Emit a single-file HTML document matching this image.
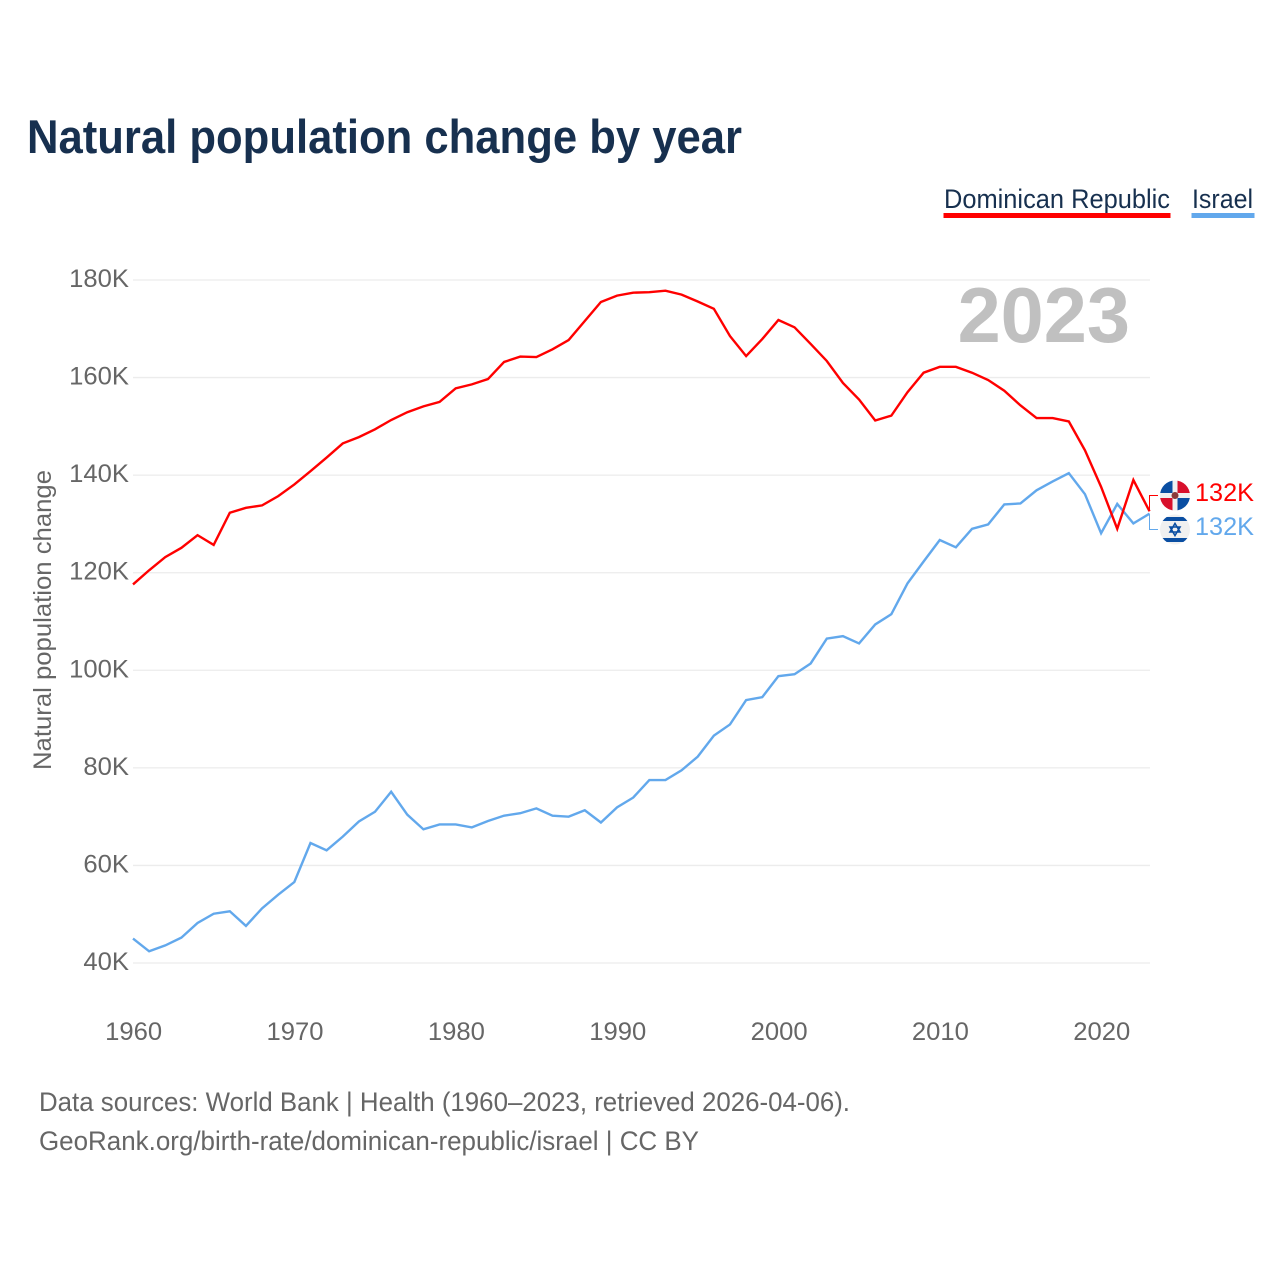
<!DOCTYPE html>
<html lang="en">
<head>
<meta charset="utf-8">
<title>Natural population change by year</title>
<style>
html,body{margin:0;padding:0;background:#fff;}
svg{display:block;font-family:"Liberation Sans",sans-serif;}
</style>
</head>
<body>
<svg id="chart" width="1280" height="1280" viewBox="0 0 1280 1280" xmlns="http://www.w3.org/2000/svg">
  <text x="27" y="153" font-size="47" font-weight="700" fill="#17304f" textLength="715" lengthAdjust="spacingAndGlyphs">Natural population change by year</text>

  <g>
    <g>
      <text x="944" y="208" font-size="27" fill="#17304f" textLength="226" lengthAdjust="spacingAndGlyphs">Dominican Republic</text>
      <rect x="943.5" y="213" width="227" height="5" fill="#ff0000"/>
    </g>
    <g>
      <text x="1192" y="208" font-size="27" fill="#17304f" textLength="61" lengthAdjust="spacingAndGlyphs">Israel</text>
      <rect x="1191.5" y="213" width="63" height="5" fill="#62a8ec"/>
    </g>
  </g>

  <g id="grid"></g>
  <text x="1130" y="342" text-anchor="end" font-size="77.5" font-weight="700" fill="#c0c0c0">2023</text>
  <g id="yticks"></g>
  <g id="xticks"></g>
  <text transform="translate(51,770) rotate(-90)" x="0" y="0" font-size="25" fill="#666666" textLength="300" lengthAdjust="spacingAndGlyphs">Natural population change</text>

  <g id="series"></g>

  <g id="connectors"></g>

  <defs>
    <clipPath id="clip-do"><circle cx="1175" cy="495.5" r="15"/></clipPath>
    <clipPath id="clip-il"><circle cx="1175" cy="529.5" r="15"/></clipPath>
  </defs>

  <g clip-path="url(#clip-do)">
    <rect x="1160" y="480" width="30" height="31" fill="#f0f0f0"/>
    <rect x="1160" y="480" width="12.5" height="13" fill="#0a4ea2"/>
    <rect x="1177.5" y="480" width="12.5" height="13" fill="#d8102c"/>
    <rect x="1160" y="498" width="12.5" height="13" fill="#d8102c"/>
    <rect x="1177.5" y="498" width="12.5" height="13" fill="#0a4ea2"/>
    <circle cx="1175" cy="495.5" r="3.5" fill="#8a3a3a"/>
  </g>

  <g clip-path="url(#clip-il)">
    <rect x="1160" y="514" width="30" height="31" fill="#f0f0f0"/>
    <rect x="1160" y="517" width="30" height="4" fill="#0a4ea2"/>
    <rect x="1160" y="538" width="30" height="4" fill="#0a4ea2"/>
    <path d="M1175 523.5l5 8.5h-10z M1175 535.5l5-8.5h-10z" fill="none" stroke="#0a4ea2" stroke-width="1.6"/>
  </g>

  <text x="1195" y="501" font-size="25" fill="#ff0000" textLength="59" lengthAdjust="spacingAndGlyphs">132K</text>
  <text x="1195" y="535" font-size="25" fill="#62a8ec" textLength="59" lengthAdjust="spacingAndGlyphs">132K</text>

  <g>
    <text x="39" y="1111" font-size="27" fill="#666666" textLength="811" lengthAdjust="spacingAndGlyphs">Data sources: World Bank | Health (1960–2023, retrieved 2026-04-06).</text>
    <text x="39" y="1150" font-size="27" fill="#666666" textLength="660" lengthAdjust="spacingAndGlyphs">GeoRank.org/birth-rate/dominican-republic/israel | CC BY</text>
  </g>
</svg>

<script>
const years = [1960,1961,1962,1963,1964,1965,1966,1967,1968,1969,1970,1971,1972,1973,1974,1975,1976,1977,1978,1979,1980,1981,1982,1983,1984,1985,1986,1987,1988,1989,1990,1991,1992,1993,1994,1995,1996,1997,1998,1999,2000,2001,2002,2003,2004,2005,2006,2007,2008,2009,2010,2011,2012,2013,2014,2015,2016,2017,2018,2019,2020,2021,2022,2023];
const dominicanRepublic = [117.6,120.5,123.2,125.1,127.7,125.7,132.3,133.3,133.8,135.7,138.1,140.8,143.6,146.5,147.8,149.4,151.3,152.9,154.1,155,157.8,158.6,159.7,163.2,164.3,164.2,165.8,167.7,171.6,175.5,176.8,177.4,177.5,177.8,177,175.6,174.1,168.5,164.4,167.9,171.8,170.3,166.9,163.4,158.9,155.5,151.2,152.2,157,161,162.2,162.2,161,159.5,157.3,154.3,151.7,151.7,151,145.1,137.6,129,139,132.6];
const israel = [45,42.4,43.6,45.2,48.2,50.1,50.6,47.6,51.2,54,56.6,64.6,63.1,65.9,69,71,75.1,70.4,67.4,68.4,68.4,67.8,69.1,70.2,70.7,71.7,70.2,70,71.3,68.8,71.9,73.9,77.5,77.5,79.5,82.3,86.6,88.9,93.9,94.5,98.8,99.2,101.4,106.5,107,105.5,109.4,111.5,117.8,122.3,126.7,125.2,129,129.9,134,134.2,136.9,138.7,140.4,136.1,128.1,134.1,130.1,132.1];
const yTickValues = [40,60,80,100,120,140,160,180];
const yTickLabels = ["40K","60K","80K","100K","120K","140K","160K","180K"];
const xTickValues = [1960,1970,1980,1990,2000,2010,2020];
const xTickLabels = ["1960","1970","1980","1990","2000","2010","2020"];

const NS = "http://www.w3.org/2000/svg";
function xScale(year) { return 133 + (year - 1960) * (1149.5 - 133) / 63; }
function yScale(value) { return 963 - (value - 40) * (963 - 280) / 140; }
function make(tag, parent, attrs) {
  const el = document.createElementNS(NS, tag);
  Object.keys(attrs).forEach(function (k) { el.setAttribute(k, attrs[k]); });
  parent.appendChild(el);
  return el;
}

const gridGroup = document.getElementById("grid");
const yGroup = document.getElementById("yticks");
const xGroup = document.getElementById("xticks");
const seriesGroup = document.getElementById("series");
const connectorGroup = document.getElementById("connectors");

yTickValues.forEach(function (v, i) {
  const line = make("line", gridGroup, { x1: 133, x2: 1150, y1: yScale(v), y2: yScale(v), stroke: "#ececec", "stroke-width": 1.3 });
  
  
  const label = make("text", yGroup, { x: 129, y: yScale(v) + 7, "text-anchor": "end", "font-size": 25, fill: "#666666", textLength: yTickLabels[i].length * 14.2 + 3, lengthAdjust: "spacingAndGlyphs" });
  
  
  label.textContent = yTickLabels[i];
});

xTickValues.forEach(function (v, i) {
  const label = make("text", xGroup, { x: xScale(v) + 0.7, y: 1040, "text-anchor": "middle", "font-size": 25, fill: "#666666", textLength: 57, lengthAdjust: "spacingAndGlyphs" });
  
  
  label.textContent = xTickLabels[i];
});

function linePath(values) {
  return values.map(function (v, i) {
    return (i ? "L" : "M") + xScale(years[i]).toFixed(2) + " " + yScale(v).toFixed(2);
  }).join("");
}

const israelLine = make("path", seriesGroup, { d: linePath(israel), fill: "none", stroke: "#62a8ec", "stroke-width": 2.4, "stroke-linejoin": "miter" });



const drLine = make("path", seriesGroup, { d: linePath(dominicanRepublic), fill: "none", stroke: "#ff0000", "stroke-width": 2.4, "stroke-linejoin": "miter" });



const lastX = xScale(years[years.length - 1]);
const drConnector = make("path", connectorGroup, { d: "M" + lastX + " " + yScale(dominicanRepublic[dominicanRepublic.length - 1]) + "V495.5H1158", fill: "none", stroke: "#ff0000", "stroke-width": 1 });



const ilConnector = make("path", connectorGroup, { d: "M" + lastX + " " + yScale(israel[israel.length - 1]) + "V529.5H1158", fill: "none", stroke: "#62a8ec", "stroke-width": 1 });


</script>
</body>
</html>
